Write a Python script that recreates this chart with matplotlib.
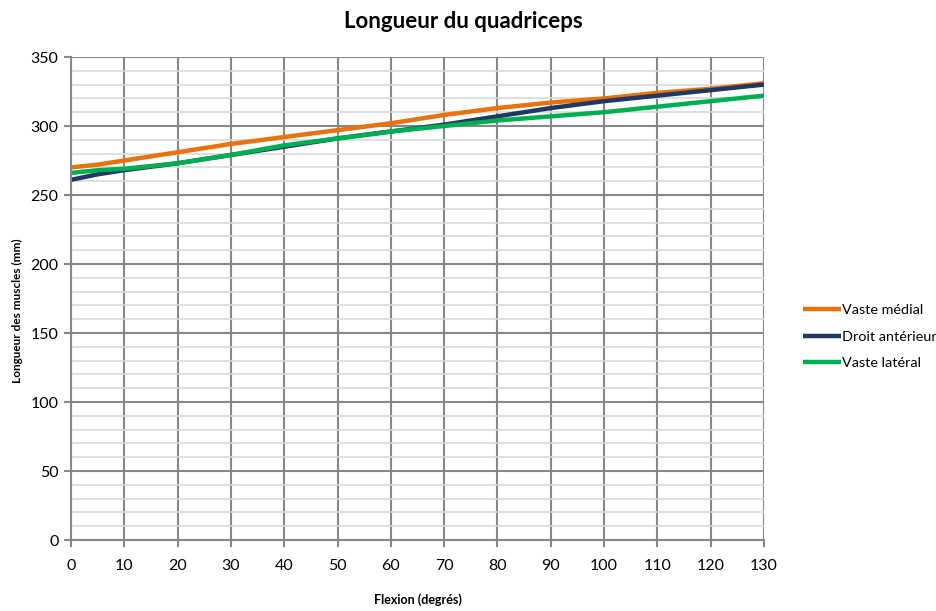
import matplotlib.pyplot as plt
from matplotlib.ticker import MultipleLocator

plt.rcParams['font.family'] = ['Lato', 'DejaVu Sans']

# flexion angle (degrees)
flexion = [0, 5, 10, 20, 30, 40, 50, 60, 70, 80, 90, 100, 110, 120, 130]

# muscle lengths (mm)
vaste_medial = [270, 272, 275, 281, 287, 292, 297, 302, 308, 313, 317, 320, 324, 327, 331]
droit_anterieur = [261, 265, 268, 273, 279, 285, 291, 296, 301, 307, 313, 318, 322, 326, 330]
vaste_lateral = [266, 268, 269, 273, 279, 286, 291, 296, 300, 304, 307, 310, 314, 318, 322]

labels = ['Vaste médial', 'Droit antérieur', 'Vaste latéral']
colors = ['#E8720C', '#1F3864', '#00B050']

fig = plt.figure(figsize=(9.36, 6.11), dpi=100)
ax = fig.add_axes([0.0759, 0.1162, 0.7403, 0.7905])

for vals, lab, col in zip([vaste_medial, droit_anterieur, vaste_lateral], labels, colors):
    ax.plot(flexion, vals, color=col, lw=3.2, label=lab, solid_capstyle='butt')

ax.set_xlim(0, 130)
ax.set_ylim(0, 350)
ax.xaxis.set_major_locator(MultipleLocator(10))
ax.yaxis.set_major_locator(MultipleLocator(50))
ax.yaxis.set_minor_locator(MultipleLocator(10))

ax.grid(which='minor', axis='y', color='#d9d9d9', lw=1.2)
ax.grid(which='major', axis='both', color='#878787', lw=1.5)
ax.set_axisbelow(True)

for s in ['top', 'right']:
    ax.spines[s].set_visible(False)
for s in ['left', 'bottom']:
    ax.spines[s].set_color('#878787')
    ax.spines[s].set_linewidth(1.5)

ax.tick_params(axis='y', which='major', length=5, width=1.5, color='#878787', labelsize=11.5, pad=4)
ax.tick_params(axis='y', which='minor', length=0)
ax.tick_params(axis='x', length=5, width=1.5, color='#878787', labelsize=11.5, pad=9)

ax.set_xlabel('Flexion (degrés)', fontsize=9, fontweight='bold', labelpad=14)
fig.text(0.4947, 0.964, 'Longueur du quadriceps', ha='center', va='center',
         fontsize=16, fontweight='bold')

# y label (stacked and squeezed in the source rendering)
fig.text(17 / 936, (611 - 311) / 611, 'Longueur des muscles (mm)', rotation=90,
         ha='center', va='center', fontsize=8.5, fontweight='bold')

fig.legend(loc='center left', bbox_to_anchor=(0.852, 0.449), frameon=False,
           fontsize=10.4, handlelength=2.6, handletextpad=0.1, labelspacing=1.0,
           borderaxespad=0)

fig.savefig('out.png', dpi=100)
